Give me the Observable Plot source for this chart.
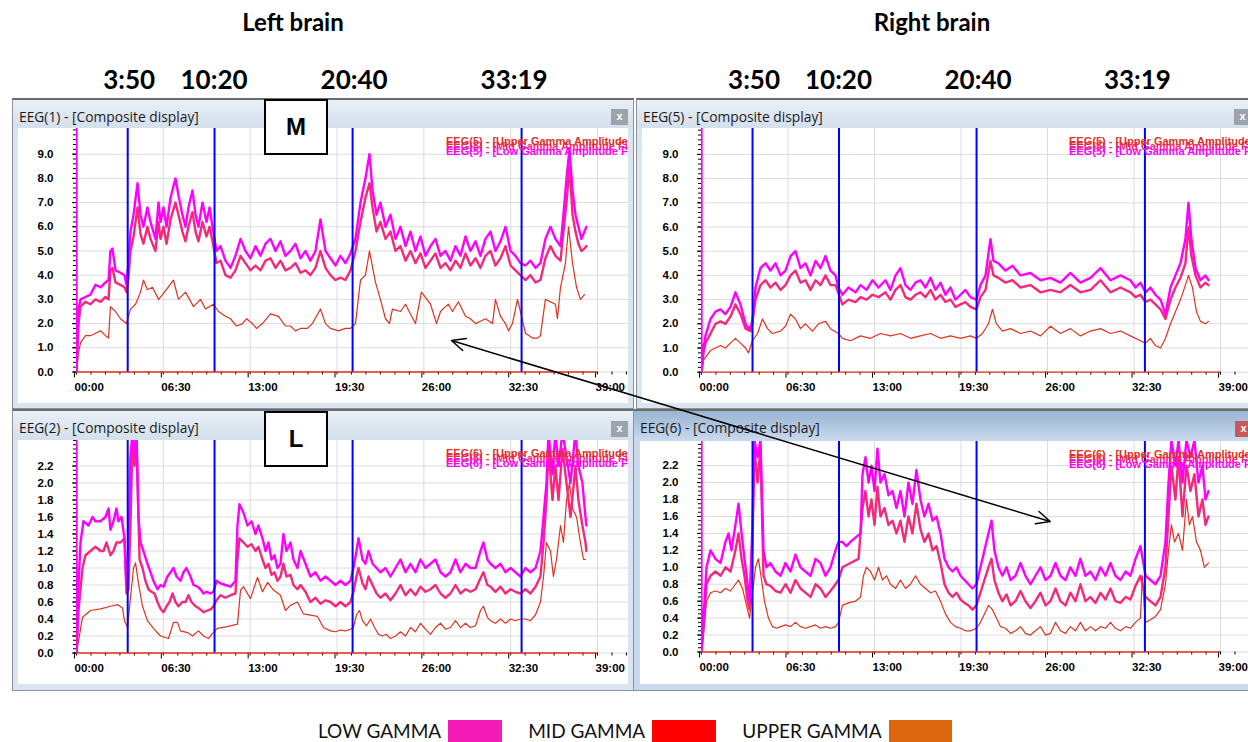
<!DOCTYPE html>
<html><head><meta charset="utf-8">
<script src="https://cdn.jsdelivr.net/npm/d3@7"></script>
<script src="https://cdn.jsdelivr.net/npm/@observablehq/plot@0.6"></script>
<style>
html,body{margin:0;padding:0;background:#fff;}
#page{position:relative;width:1248px;height:742px;overflow:hidden;background:#fff;}
</style></head>
<body><div id="page"></div>
<script>
// ---------- DATA (minutes, amplitude) ----------
const eventLabels = ["3:50","10:20","20:40","33:19"];
const xTickMin = [0, 6.5, 13, 19.5, 26, 32.5, 39];
const xTickLabels = ["00:00","06:30","13:00","19:30","26:00","32:30","39:00"];
const yTicksM = [0,1,2,3,4,5,6,7,8,9];
const yLabelsM = ["0.0","1.0","2.0","3.0","4.0","5.0","6.0","7.0","8.0","9.0"];
const yTicksL = [0,0.2,0.4,0.6,0.8,1.0,1.2,1.4,1.6,1.8,2.0,2.2];
const yLabelsL = ["0.0","0.2","0.4","0.6","0.8","1.0","1.2","1.4","1.6","1.8","2.0","2.2"];
const legendLabels = ["LOW GAMMA","MID GAMMA","UPPER GAMMA"];
const legendColors = ["#f21bb6","#ff0000","#dc670f"];

// Left brain, M
const leftM_low = [[0,12],[0,0],[0.07,1.5],[0.15,2.6],[0.30,3.0],[0.67,3.1],[1.05,3.2],[1.42,3.6],[1.80,3.5],[2.17,3.7],[2.40,3.8],[2.54,5.0],[2.69,5.1],[2.92,4.2],[3.29,4.1],[3.59,4.0],[3.74,3.6],[3.89,4.5],[4.04,5.8],[4.27,6.5],[4.57,7.8],[4.79,6.5],[5.01,6.0],[5.31,6.8],[5.54,6.2],[5.91,5.5],[6.14,7.0],[6.29,6.2],[6.51,6.8],[6.74,6.0],[7.04,7.2],[7.41,8.0],[7.63,7.3],[7.93,6.5],[8.16,6.0],[8.38,6.8],[8.68,7.5],[8.91,6.5],[9.13,6.0],[9.43,7.0],[9.73,6.2],[9.96,6.8],[10.18,6.0],[10.48,5.0],[10.78,5.2],[11.15,4.6],[11.53,4.3],[11.90,4.8],[12.28,5.5],[12.65,5.0],[13.02,4.7],[13.40,5.2],[13.77,4.8],[14.15,5.3],[14.52,5.5],[14.90,5.0],[15.27,5.4],[15.64,4.8],[16.02,5.0],[16.39,5.3],[16.77,4.7],[17.14,5.0],[17.51,4.6],[17.89,5.0],[18.26,6.3],[18.64,5.0],[19.01,4.7],[19.39,4.4],[19.76,4.8],[20.13,4.5],[20.51,4.9],[20.88,5.5],[21.26,7.0],[21.63,8.0],[21.93,9.0],[22.16,7.5],[22.46,6.5],[22.75,7.0],[23.13,6.0],[23.50,6.5],[23.88,5.5],[24.25,6.0],[24.63,5.2],[25.00,5.8],[25.37,5.0],[25.75,5.6],[26.12,4.8],[26.50,5.2],[26.87,5.5],[27.25,4.8],[27.62,5.0],[27.99,4.6],[28.37,5.2],[28.74,4.8],[29.12,5.6],[29.49,5.0],[29.87,5.4],[30.24,4.8],[30.61,5.5],[30.99,5.8],[31.36,5.0],[31.74,5.4],[32.11,6.0],[32.49,5.0],[32.86,4.8],[33.23,4.5],[33.61,4.4],[33.98,4.6],[34.36,4.3],[34.73,4.5],[35.10,5.5],[35.48,6.0],[35.85,5.5],[36.23,5.2],[36.45,6.5],[36.68,8.0],[36.90,9.2],[37.13,7.5],[37.35,6.5],[37.57,6.0],[37.80,5.5],[38.02,5.8],[38.17,6.0]];
const leftM_mid = [[0,0],[0.15,2.0],[0.30,2.7],[0.67,2.9],[1.05,2.8],[1.42,3.0],[1.80,2.9],[2.17,3.1],[2.40,3.0],[2.54,4.2],[2.69,4.3],[2.92,3.7],[3.29,3.6],[3.59,3.5],[3.74,3.3],[3.89,3.9],[4.04,5.0],[4.27,5.6],[4.57,6.8],[4.79,5.7],[5.01,5.3],[5.31,6.0],[5.54,5.5],[5.91,5.0],[6.14,6.2],[6.29,5.5],[6.51,6.0],[6.74,5.3],[7.04,6.3],[7.41,7.0],[7.63,6.5],[7.93,5.8],[8.16,5.4],[8.38,6.0],[8.68,6.6],[8.91,5.8],[9.13,5.4],[9.43,6.2],[9.73,5.6],[9.96,6.0],[10.18,5.4],[10.48,4.5],[10.78,4.6],[11.15,4.0],[11.53,3.9],[11.90,4.2],[12.28,4.8],[12.65,4.5],[13.02,4.2],[13.40,4.4],[13.77,4.2],[14.15,4.6],[14.52,4.7],[14.90,4.3],[15.27,4.6],[15.64,4.2],[16.02,4.3],[16.39,4.5],[16.77,4.1],[17.14,4.2],[17.51,4.0],[17.89,4.3],[18.26,5.0],[18.64,4.3],[19.01,4.0],[19.39,3.8],[19.76,3.9],[20.13,3.8],[20.51,4.2],[20.88,5.0],[21.26,6.2],[21.63,7.2],[21.93,7.8],[22.16,6.8],[22.46,5.8],[22.75,6.2],[23.13,5.5],[23.50,5.8],[23.88,5.0],[24.25,5.2],[24.63,4.6],[25.00,5.0],[25.37,4.5],[25.75,4.9],[26.12,4.3],[26.50,4.6],[26.87,4.9],[27.25,4.3],[27.62,4.5],[27.99,4.2],[28.37,4.6],[28.74,4.3],[29.12,4.9],[29.49,4.4],[29.87,4.7],[30.24,4.3],[30.61,4.8],[30.99,5.0],[31.36,4.4],[31.74,4.7],[32.11,5.2],[32.49,4.4],[32.86,4.2],[33.23,4.0],[33.61,3.8],[33.98,4.0],[34.36,3.7],[34.73,3.8],[35.10,4.7],[35.48,5.2],[35.85,4.8],[36.23,4.6],[36.45,5.8],[36.68,7.0],[36.90,8.5],[37.13,6.5],[37.35,5.8],[37.57,5.3],[37.80,5.0],[38.02,5.1],[38.17,5.2]];
const leftM_upper = [[0,0],[0.15,0.8],[0.30,1.2],[0.67,1.5],[1.05,1.5],[1.42,1.6],[1.80,1.7],[2.17,1.5],[2.40,1.4],[2.54,2.7],[2.92,2.5],[3.29,2.2],[3.74,2.0],[4.04,2.6],[4.42,2.8],[4.79,3.3],[5.01,3.8],[5.31,3.4],[5.69,3.5],[6.14,3.0],[6.44,3.2],[7.26,3.8],[7.63,3.0],[8.16,3.3],[8.76,2.7],[9.28,3.0],[9.66,2.6],[10.25,2.8],[10.63,2.5],[11.15,2.3],[11.53,2.2],[11.98,1.9],[12.43,2.0],[12.72,2.2],[13.17,2.0],[13.47,1.8],[13.92,2.0],[14.52,2.4],[15.12,2.3],[15.64,1.9],[16.02,1.9],[16.39,1.7],[16.77,1.8],[17.29,1.8],[17.66,2.0],[18.26,2.6],[18.64,2.0],[19.01,1.8],[19.61,1.7],[20.13,1.8],[20.51,1.8],[20.88,2.0],[21.26,3.8],[21.63,4.0],[21.93,5.0],[22.38,3.7],[22.75,3.0],[23.13,2.2],[23.43,2.0],[23.65,2.6],[24.25,2.5],[24.63,2.8],[25.00,2.4],[25.37,2.0],[25.82,3.3],[26.50,2.8],[26.95,2.0],[27.25,2.5],[27.62,2.7],[27.84,2.8],[28.14,2.5],[28.59,2.9],[29.12,2.3],[29.49,2.2],[29.87,2.0],[30.24,2.1],[30.61,2.2],[31.14,2.0],[31.36,3.0],[31.74,2.3],[32.11,2.0],[32.34,1.7],[32.63,2.0],[33.01,3.0],[33.23,2.5],[33.61,1.6],[34.13,1.4],[34.51,1.4],[34.73,1.5],[35.10,3.0],[35.85,2.8],[36.00,2.2],[36.23,3.5],[36.60,4.5],[36.83,6.0],[37.13,4.5],[37.43,3.5],[37.72,3.0],[38.02,3.2]];

// Right brain, M
const rightM_low = [[0,12],[0,0],[0.15,1.0],[0.30,1.5],[0.68,2.2],[1.05,2.5],[1.43,2.6],[1.80,2.4],[2.18,2.7],[2.55,3.3],[2.93,2.8],[3.31,2.0],[3.53,1.8],[3.83,2.0],[4.06,3.5],[4.43,4.3],[4.81,4.5],[5.18,4.2],[5.56,4.5],[5.94,4.0],[6.31,4.2],[6.69,4.8],[7.06,5.0],[7.44,4.3],[7.81,4.5],[8.19,4.0],[8.57,4.6],[8.94,4.3],[9.32,4.8],[9.69,4.2],[10.07,4.0],[10.29,3.5],[10.59,3.2],[11.04,3.5],[11.57,3.3],[11.95,3.6],[12.40,3.4],[12.85,3.8],[13.30,3.5],[13.82,3.8],[14.20,3.4],[14.58,4.0],[14.95,4.3],[15.33,3.6],[15.70,3.4],[16.08,3.7],[16.45,3.8],[16.83,3.5],[17.21,3.9],[17.58,3.4],[17.96,3.7],[18.33,3.2],[18.71,3.5],[19.08,3.0],[19.46,3.2],[19.83,3.4],[20.21,3.1],[20.66,3.0],[20.96,3.6],[21.34,4.0],[21.71,5.5],[21.94,4.6],[22.31,4.5],[22.84,4.2],[23.37,4.4],[23.97,4.0],[24.72,4.1],[25.47,3.8],[26.22,3.9],[26.97,3.7],[27.72,4.1],[28.47,3.7],[29.23,3.9],[29.98,4.3],[30.73,3.8],[31.48,4.0],[32.23,3.8],[32.61,3.5],[32.98,3.7],[33.36,3.3],[33.73,3.5],[34.11,3.2],[34.49,3.0],[34.86,2.4],[35.24,3.5],[35.61,4.0],[35.99,4.5],[36.36,5.5],[36.59,7.0],[36.81,5.5],[37.12,4.3],[37.49,3.8],[37.87,4.0],[38.09,3.8]];
const rightM_mid = [[0,0],[0.15,0.8],[0.30,1.2],[0.68,1.6],[1.05,2.0],[1.43,2.1],[1.80,2.0],[2.18,2.3],[2.55,2.8],[2.93,2.4],[3.31,1.8],[3.68,1.7],[4.06,3.0],[4.43,3.6],[4.81,3.8],[5.18,3.5],[5.56,3.7],[5.94,3.4],[6.31,3.6],[6.69,4.0],[7.06,4.2],[7.44,3.7],[7.81,3.8],[8.19,3.4],[8.57,3.8],[8.94,3.6],[9.32,4.0],[9.69,3.6],[10.07,3.6],[10.59,2.8],[11.04,3.0],[11.57,2.9],[11.95,3.1],[12.40,3.0],[12.85,3.2],[13.30,3.1],[13.82,3.3],[14.20,3.0],[14.58,3.4],[14.95,3.6],[15.33,3.1],[15.70,3.0],[16.08,3.2],[16.45,3.3],[16.83,3.1],[17.21,3.4],[17.58,3.0],[17.96,3.2],[18.33,2.9],[18.71,3.0],[19.08,2.7],[19.46,2.8],[19.83,2.9],[20.21,2.7],[20.66,2.6],[20.96,3.1],[21.34,3.4],[21.71,4.6],[21.94,4.0],[22.31,3.9],[22.84,3.7],[23.37,3.8],[23.97,3.5],[24.72,3.6],[25.47,3.3],[26.22,3.4],[26.97,3.3],[27.72,3.6],[28.47,3.3],[29.23,3.4],[29.98,3.8],[30.73,3.3],[31.48,3.5],[32.23,3.3],[32.61,3.1],[32.98,3.2],[33.36,2.9],[33.73,3.0],[34.11,2.8],[34.49,2.6],[34.86,2.2],[35.24,3.0],[35.61,3.5],[35.99,3.9],[36.36,4.5],[36.59,6.0],[36.81,4.8],[37.12,4.0],[37.49,3.5],[37.87,3.7],[38.09,3.6]];
const rightM_upper = [[0,0],[0.15,0.5],[0.68,0.9],[1.05,1.0],[1.43,1.1],[1.80,1.0],[2.18,1.2],[2.55,1.4],[2.93,1.2],[3.31,1.0],[3.53,0.8],[3.83,1.3],[4.21,1.6],[4.58,2.2],[4.96,1.8],[5.33,1.6],[5.94,1.7],[6.31,1.9],[6.69,2.4],[7.06,2.2],[7.44,1.8],[7.81,2.0],[8.34,1.7],[8.79,2.0],[9.32,2.1],[9.69,1.8],[10.29,1.6],[10.59,1.4],[11.19,1.3],[11.95,1.5],[12.70,1.4],[13.45,1.6],[14.20,1.5],[14.95,1.6],[15.70,1.4],[16.45,1.5],[17.21,1.6],[17.96,1.4],[18.71,1.5],[19.46,1.4],[20.21,1.5],[20.66,1.4],[21.11,1.6],[21.56,2.0],[21.86,2.6],[22.16,2.0],[22.61,1.7],[23.22,1.8],[23.97,1.6],[24.72,1.7],[25.47,1.5],[26.22,1.9],[26.97,1.6],[27.72,1.8],[28.47,1.5],[29.23,1.7],[29.98,1.8],[30.73,1.6],[31.48,1.7],[32.23,1.5],[32.98,1.3],[33.36,1.2],[33.73,1.4],[34.11,1.1],[34.49,1.0],[34.86,1.4],[35.24,2.0],[35.61,2.5],[35.99,3.0],[36.36,3.6],[36.59,4.0],[36.89,3.5],[37.19,2.5],[37.49,2.1],[37.87,2.0],[38.09,2.1]];

// Left brain, L
const leftL_low = [[0,3],[0,0],[0.15,0.8],[0.30,1.3],[0.52,1.55],[0.90,1.5],[1.20,1.6],[1.42,1.55],[1.80,1.55],[2.17,1.6],[2.40,1.7],[2.54,1.45],[2.77,1.55],[2.99,1.7],[3.14,1.55],[3.37,1.6],[3.59,1.35],[3.74,0.8],[3.89,1.2],[4.04,2.3],[4.19,2.6],[4.34,2.3],[4.49,2.6],[4.64,1.6],[4.79,1.3],[5.01,1.2],[5.31,1.05],[5.54,0.95],[5.76,0.85],[6.06,0.75],[6.29,0.8],[6.51,0.78],[6.81,0.9],[7.04,0.95],[7.26,1.0],[7.49,0.9],[7.78,0.85],[8.01,0.95],[8.23,1.0],[8.38,0.95],[8.53,0.9],[8.76,0.8],[9.06,0.78],[9.28,0.75],[9.51,0.7],[9.73,0.72],[10.03,0.7],[10.25,0.72],[10.48,0.85],[10.78,0.82],[11.15,0.8],[11.53,0.78],[11.90,0.85],[12.05,1.5],[12.20,1.75],[12.50,1.65],[12.80,1.5],[13.10,1.55],[13.40,1.4],[13.62,1.5],[13.92,1.35],[14.15,1.2],[14.37,1.3],[14.60,1.1],[14.82,1.15],[15.04,1.0],[15.27,1.05],[15.49,1.4],[15.72,1.2],[16.02,1.3],[16.24,1.1],[16.54,1.0],[16.77,1.2],[17.14,1.05],[17.51,0.9],[17.89,0.95],[18.26,0.85],[18.64,0.9],[19.01,0.85],[19.39,0.8],[19.76,0.85],[20.13,0.8],[20.51,0.85],[20.73,1.0],[20.96,1.2],[21.11,1.35],[21.41,1.1],[21.63,1.05],[21.86,1.2],[22.16,1.05],[22.46,1.0],[22.75,0.95],[23.13,1.0],[23.50,0.9],[23.88,1.0],[24.25,1.1],[24.63,0.95],[25.00,1.05],[25.37,0.95],[25.75,1.1],[26.12,1.0],[26.50,1.05],[26.87,1.1],[27.25,0.95],[27.62,0.9],[27.99,0.95],[28.37,1.1],[28.74,0.95],[29.12,1.05],[29.49,1.0],[29.87,1.0],[30.24,1.2],[30.46,1.3],[30.76,1.1],[30.99,1.05],[31.36,1.0],[31.74,1.05],[32.11,0.95],[32.49,1.0],[32.86,0.95],[33.23,0.9],[33.61,1.0],[33.98,0.95],[34.36,1.0],[34.73,1.2],[34.96,1.6],[35.18,2.0],[35.33,2.6],[35.63,2.1],[35.85,2.6],[36.08,2.2],[36.38,2.6],[36.68,2.3],[36.98,2.0],[37.35,2.6],[37.57,2.2],[37.87,2.0],[38.10,1.6],[38.17,1.5]];
const leftL_mid = [[0,0],[0.15,0.5],[0.45,1.0],[0.67,1.15],[1.05,1.2],[1.42,1.25],[1.80,1.2],[2.02,1.2],[2.25,1.3],[2.54,1.15],[2.77,1.2],[2.99,1.3],[3.29,1.3],[3.59,1.35],[3.74,0.7],[3.89,0.75],[4.04,1.5],[4.19,2.5],[4.34,2.2],[4.49,2.5],[4.72,1.1],[4.94,1.0],[5.16,0.85],[5.39,0.75],[5.61,0.72],[5.84,0.7],[6.06,0.6],[6.29,0.52],[6.51,0.48],[6.74,0.55],[6.96,0.6],[7.19,0.7],[7.41,0.6],[7.63,0.55],[7.93,0.6],[8.16,0.6],[8.38,0.68],[8.61,0.6],[8.91,0.55],[9.21,0.52],[9.51,0.48],[9.81,0.5],[10.10,0.52],[10.25,0.55],[10.48,0.62],[10.78,0.68],[11.15,0.65],[11.53,0.68],[11.90,0.7],[12.05,1.1],[12.20,1.35],[12.50,1.3],[12.80,1.25],[13.10,1.28],[13.40,1.2],[13.62,1.25],[13.92,1.1],[14.15,1.0],[14.37,1.05],[14.60,0.92],[14.82,0.95],[15.04,0.85],[15.27,0.9],[15.49,1.05],[15.72,0.9],[16.02,0.92],[16.24,0.8],[16.54,0.75],[16.77,0.8],[17.14,0.72],[17.51,0.6],[17.89,0.65],[18.26,0.58],[18.64,0.62],[19.01,0.6],[19.39,0.55],[19.76,0.6],[20.13,0.55],[20.51,0.6],[20.73,0.72],[20.96,0.9],[21.11,1.0],[21.41,0.82],[21.63,0.75],[21.86,0.9],[22.16,0.8],[22.46,0.7],[22.75,0.65],[23.13,0.7],[23.50,0.62],[23.88,0.7],[24.25,0.8],[24.63,0.68],[25.00,0.75],[25.37,0.68],[25.75,0.78],[26.12,0.72],[26.50,0.75],[26.87,0.8],[27.25,0.7],[27.62,0.65],[27.99,0.7],[28.37,0.8],[28.74,0.7],[29.12,0.75],[29.49,0.72],[29.87,0.75],[30.24,0.88],[30.46,0.95],[30.76,0.8],[30.99,0.78],[31.36,0.72],[31.74,0.78],[32.11,0.7],[32.49,0.75],[32.86,0.72],[33.23,0.7],[33.61,0.75],[33.98,0.7],[34.36,0.78],[34.73,0.9],[34.96,1.3],[35.18,1.8],[35.33,2.4],[35.63,1.8],[35.85,2.2],[36.08,1.8],[36.38,2.4],[36.68,2.0],[36.98,1.6],[37.35,2.2],[37.57,1.8],[37.87,1.5],[38.10,1.3],[38.17,1.2]];
const leftL_upper = [[0,0],[0.07,0.07],[0.45,0.42],[1.05,0.5],[1.80,0.52],[2.54,0.55],[3.07,0.57],[3.44,0.53],[3.59,0.38],[3.82,0.3],[4.04,0.65],[4.27,1.0],[4.42,1.06],[4.64,0.82],[4.94,0.55],[5.31,0.38],[5.76,0.29],[6.29,0.2],[6.89,0.17],[7.26,0.36],[7.56,0.36],[7.78,0.26],[8.31,0.24],[8.68,0.2],[9.13,0.26],[9.51,0.2],[9.88,0.17],[10.18,0.23],[10.55,0.29],[11.30,0.31],[12.05,0.34],[12.28,0.74],[12.50,0.78],[13.02,0.64],[13.55,0.89],[13.92,0.72],[14.30,0.83],[14.75,0.74],[15.27,0.68],[15.64,0.5],[16.02,0.56],[16.54,0.6],[16.99,0.46],[18.04,0.43],[18.49,0.3],[19.01,0.26],[19.39,0.25],[19.76,0.27],[20.13,0.26],[20.51,0.28],[20.73,0.3],[20.96,0.45],[21.18,0.5],[21.41,0.38],[21.71,0.32],[22.01,0.4],[22.31,0.3],[22.60,0.22],[22.90,0.2],[23.20,0.22],[23.50,0.17],[23.88,0.2],[24.25,0.25],[24.63,0.2],[25.00,0.3],[25.37,0.25],[25.75,0.35],[26.12,0.28],[26.50,0.22],[26.87,0.3],[27.25,0.35],[27.62,0.28],[27.99,0.3],[28.37,0.38],[28.74,0.3],[29.12,0.35],[29.49,0.3],[29.87,0.32],[30.24,0.5],[30.46,0.55],[30.76,0.42],[30.99,0.38],[31.36,0.35],[31.74,0.4],[32.11,0.35],[32.49,0.4],[32.86,0.38],[33.23,0.4],[33.61,0.4],[33.98,0.38],[34.36,0.45],[34.73,0.6],[34.96,0.9],[35.18,1.3],[35.48,1.2],[35.70,0.9],[35.93,1.1],[36.23,1.5],[36.45,1.3],[36.68,1.8],[36.90,2.0],[37.13,1.7],[37.43,1.6],[37.72,1.3],[37.95,1.1],[38.10,1.1]];

// Right brain, L
const rightL_low = [[0,3],[0,0],[0.15,0.4],[0.38,1.0],[0.68,1.2],[1.05,1.1],[1.43,1.05],[1.80,1.3],[2.03,1.4],[2.25,1.2],[2.55,1.5],[2.78,1.75],[3.01,1.4],[3.23,1.1],[3.46,0.8],[3.61,0.6],[3.83,1.5],[3.98,2.5],[4.21,2.3],[4.43,2.5],[4.66,1.2],[4.88,1.0],[5.18,1.05],[5.56,0.95],[5.94,0.9],[6.31,1.05],[6.69,0.95],[7.06,1.15],[7.44,1.0],[7.81,0.95],[8.19,0.9],[8.57,1.1],[8.94,1.05],[9.32,0.9],[9.69,1.0],[10.07,1.2],[10.29,1.3],[10.59,1.3],[10.89,1.25],[11.19,1.3],[11.57,1.35],[11.95,1.4],[12.10,2.1],[12.32,2.3],[12.55,2.0],[12.77,2.2],[13.00,1.9],[13.22,2.4],[13.45,2.0],[13.75,2.1],[14.05,1.85],[14.35,1.9],[14.65,1.7],[14.95,1.9],[15.25,1.6],[15.55,2.0],[15.85,1.75],[16.15,2.15],[16.45,1.8],[16.75,1.6],[17.06,1.75],[17.36,1.55],[17.66,1.6],[17.96,1.4],[18.26,1.1],[18.56,1.0],[18.86,0.95],[19.16,1.0],[19.46,0.9],[19.76,0.85],[20.06,0.8],[20.36,0.75],[20.66,0.8],[20.96,1.0],[21.26,1.2],[21.56,1.4],[21.79,1.55],[22.01,1.2],[22.31,1.0],[22.61,0.9],[22.92,1.0],[23.22,0.85],[23.59,0.9],[23.97,1.05],[24.34,0.9],[24.72,0.8],[25.09,0.9],[25.47,1.0],[25.85,0.85],[26.22,0.9],[26.60,1.05],[26.97,0.9],[27.35,0.85],[27.72,1.0],[28.10,0.9],[28.47,1.1],[28.85,0.9],[29.23,0.95],[29.60,0.85],[29.98,1.0],[30.35,0.9],[30.73,1.05],[31.10,0.9],[31.48,0.85],[31.86,0.95],[32.23,0.9],[32.61,1.1],[32.98,1.25],[33.36,0.9],[33.73,0.85],[34.11,0.8],[34.49,0.9],[34.86,1.3],[35.09,2.0],[35.31,2.5],[35.61,2.2],[35.84,2.5],[36.14,2.0],[36.44,2.5],[36.74,2.3],[37.04,2.5],[37.34,2.0],[37.64,2.2],[37.87,1.8],[38.09,1.9]];
const rightL_mid = [[0,0],[0.15,0.3],[0.38,0.8],[0.68,0.9],[1.05,0.95],[1.43,0.9],[1.80,1.0],[2.18,0.95],[2.55,1.2],[2.78,1.4],[3.01,1.1],[3.23,0.9],[3.46,0.6],[3.61,0.5],[3.83,1.3],[3.98,2.4],[4.21,2.0],[4.43,2.4],[4.66,0.9],[4.88,0.8],[5.18,0.78],[5.56,0.72],[5.94,0.7],[6.31,0.8],[6.69,0.7],[7.06,0.85],[7.44,0.75],[7.81,0.7],[8.19,0.65],[8.57,0.8],[8.94,0.75],[9.32,0.65],[9.69,0.72],[10.07,0.8],[10.29,0.85],[10.59,1.0],[11.19,1.05],[11.80,1.1],[12.10,1.7],[12.32,1.9],[12.55,1.6],[12.77,1.8],[13.00,1.5],[13.22,1.95],[13.45,1.6],[13.75,1.7],[14.05,1.5],[14.35,1.55],[14.65,1.4],[14.95,1.55],[15.25,1.3],[15.55,1.6],[15.85,1.4],[16.15,1.75],[16.45,1.45],[16.75,1.3],[17.06,1.4],[17.36,1.2],[17.66,1.25],[17.96,1.05],[18.26,0.8],[18.56,0.7],[18.86,0.65],[19.16,0.7],[19.46,0.62],[19.76,0.58],[20.06,0.55],[20.36,0.5],[20.66,0.55],[20.96,0.7],[21.26,0.85],[21.56,1.0],[21.79,1.1],[22.01,0.85],[22.31,0.7],[22.61,0.6],[22.92,0.68],[23.22,0.55],[23.59,0.6],[23.97,0.72],[24.34,0.6],[24.72,0.52],[25.09,0.6],[25.47,0.7],[25.85,0.55],[26.22,0.6],[26.60,0.75],[26.97,0.6],[27.35,0.55],[27.72,0.7],[28.10,0.6],[28.47,0.8],[28.85,0.6],[29.23,0.65],[29.60,0.58],[29.98,0.7],[30.35,0.62],[30.73,0.75],[31.10,0.6],[31.48,0.58],[31.86,0.65],[32.23,0.62],[32.61,0.78],[32.98,0.9],[33.36,0.65],[33.73,0.6],[34.11,0.55],[34.49,0.65],[34.86,1.0],[35.09,1.6],[35.31,2.2],[35.61,1.8],[35.84,2.3],[36.14,1.6],[36.44,2.2],[36.74,1.9],[37.04,2.1],[37.34,1.6],[37.64,1.8],[37.87,1.5],[38.09,1.6]];
const rightL_upper = [[0,0],[0.15,0.2],[0.38,0.6],[0.68,0.7],[1.05,0.72],[1.43,0.7],[1.80,0.75],[2.18,0.72],[2.55,0.8],[2.78,0.85],[3.08,0.75],[3.38,0.55],[3.61,0.4],[3.83,0.7],[4.06,1.0],[4.28,1.1],[4.51,0.85],[4.73,0.6],[5.03,0.4],[5.33,0.3],[5.63,0.28],[5.94,0.3],[6.31,0.32],[6.69,0.3],[7.06,0.35],[7.44,0.3],[7.81,0.28],[8.19,0.3],[8.57,0.32],[8.94,0.28],[9.32,0.3],[9.69,0.28],[10.07,0.3],[10.29,0.35],[10.59,0.55],[11.04,0.58],[11.57,0.6],[11.95,0.65],[12.17,0.9],[12.40,1.0],[12.70,0.95],[13.00,0.85],[13.30,1.0],[13.60,0.85],[13.90,0.9],[14.20,0.8],[14.58,0.75],[14.95,0.85],[15.33,0.75],[15.70,0.8],[16.08,0.9],[16.45,0.8],[16.83,0.75],[17.21,0.7],[17.58,0.72],[17.96,0.6],[18.33,0.45],[18.71,0.35],[19.08,0.3],[19.46,0.28],[19.83,0.25],[20.21,0.25],[20.66,0.28],[20.96,0.35],[21.26,0.45],[21.56,0.55],[21.86,0.5],[22.16,0.4],[22.46,0.3],[22.84,0.28],[23.22,0.22],[23.59,0.25],[23.97,0.3],[24.34,0.22],[24.72,0.2],[25.09,0.25],[25.47,0.3],[25.85,0.2],[26.22,0.22],[26.60,0.35],[26.97,0.25],[27.35,0.22],[27.72,0.3],[28.10,0.25],[28.47,0.35],[28.85,0.25],[29.23,0.3],[29.60,0.25],[29.98,0.3],[30.35,0.28],[30.73,0.35],[31.10,0.28],[31.48,0.25],[31.86,0.3],[32.23,0.28],[32.61,0.35],[32.98,0.4],[33.13,0.9],[33.28,0.5],[33.36,0.35],[33.73,0.38],[34.11,0.42],[34.49,0.5],[34.86,0.8],[35.09,1.2],[35.31,1.5],[35.54,1.3],[35.84,1.4],[36.14,1.2],[36.44,1.8],[36.66,1.5],[36.89,1.6],[37.19,1.3],[37.49,1.2],[37.79,1.0],[38.09,1.05]];

// annotation arrow ends, in each panel's own units
const arrowFrom = {panel: "TL", t: 28.07, v: 1.3};
const arrowTo = {panel: "BR", t: 26.2, v: 1.54};

// ---------- STYLE ----------
const C_LOW = "#ff00ff", C_MID = "#f5287c", C_UP = "#e0321e", C_EVENT = "#0000ff";
const eventMinutes = eventLabels.map(s => { const [m, sec] = s.split(":").map(Number); return m + sec / 60; });
const eventLabelNudge = [2, 0, 2, -7];   // header label offsets (px) relative to their line

const page = document.getElementById("page");
function el(tag, css, text, parent) {
  const e = document.createElement(tag);
  Object.assign(e.style, css);
  if (text != null) e.textContent = text;
  (parent || page).appendChild(e);
  return e;
}

const panels = [
  {key:"TL", title:"EEG(1) - [Composite display]", eeg:"EEG(5)", series:[leftM_upper, leftM_mid, leftM_low],
   win:[12,98,622,311], content:[18,128,610,275], mL:58, mB:31.5, yMax:10.06, xMax:41.32,
   yTicks:yTicksM, yLabels:yLabelsM, minorStep:0.2, close:[610,107], legX:428, active:false},
  {key:"TR", title:"EEG(5) - [Composite display]", eeg:"EEG(5)", series:[rightM_upper, rightM_mid, rightM_low],
   win:[636,98,620,311], content:[642,128,606,275], mL:59, mB:31.3, yMax:10.07, xMax:41.1,
   yTicks:yTicksM, yLabels:yLabelsM, minorStep:0.2, close:[1233,107], legX:427, active:false},
  {key:"BL", title:"EEG(2) - [Composite display]", eeg:"EEG(6)", series:[leftL_upper, leftL_mid, leftL_low],
   win:[12,409,622,282], content:[18,440,610,244], mL:58, mB:31.5, yMax:2.5, xMax:41.32,
   yTicks:yTicksL, yLabels:yLabelsL, minorStep:0.05, close:[610,419], legX:428, active:false},
  {key:"BR", title:"EEG(6) - [Composite display]", eeg:"EEG(6)", series:[rightL_upper, rightL_mid, rightL_low],
   win:[633,409,620,282], content:[640,441,608,243], mL:61, mB:32.5, yMax:2.485, xMax:41.1,
   yTicks:yTicksL, yLabels:yLabelsL, minorStep:0.05, close:[1234,419], legX:429, active:true}
];

function drawPanel(p) {
  const [, , cw, ch] = p.content;
  const minorX = []; for (let k = 0; k * 65 / 60 <= p.xMax; k++) minorX.push(k * 65 / 60);
  const minorY = []; for (let k = 0; k * p.minorStep <= p.yMax; k++) minorY.push(+(k * p.minorStep).toFixed(3));
  const xLab = new Map(xTickMin.map((m, i) => [m, xTickLabels[i]]));
  const yLab = new Map(p.yTicks.map((m, i) => [m, p.yLabels[i]]));
  const [up, mid, low] = p.series;
  const X = d => d[0], Y = d => d[1];
  return Plot.plot({
    width: cw, height: ch,
    marginLeft: p.mL, marginRight: 0, marginTop: 0, marginBottom: p.mB,
    x: {domain: [0, p.xMax]}, y: {domain: [0, p.yMax]},
    style: {fontFamily: "'Liberation Sans', Arial, sans-serif", fontSize: "11.5px", fontWeight: "bold", color: "#000", background: "transparent", overflow: "visible"},
    marks: [
      Plot.gridX(xTickMin, {stroke: "#dcdcdc", strokeOpacity: 1}),
      Plot.gridY(p.yTicks, {stroke: "#dcdcdc", strokeOpacity: 1}),
      Plot.ruleX([0], {stroke: "#000"}),
      Plot.axisX(minorX, {tickSize: 3, tickFormat: () => "", stroke: "#000"}),
      Plot.axisX(xTickMin, {tickSize: 6, tickPadding: 5, tickFormat: d => xLab.get(d), textAnchor: "start", dx: -2, stroke: "#000", fill: "#000"}),
      Plot.axisY(minorY, {tickSize: 3, tickFormat: () => "", stroke: "#000"}),
      Plot.axisY(p.yTicks, {tickSize: 4, tickPadding: 19, tickFormat: d => yLab.get(d), stroke: "#000", fill: "#000"}),
      Plot.line(up, {x: X, y: Y, stroke: C_UP, strokeWidth: 1.2, clip: true}),
      Plot.line(mid, {x: X, y: Y, stroke: C_MID, strokeWidth: 2.4, clip: true}),
      Plot.line(low, {x: X, y: Y, stroke: C_LOW, strokeWidth: 2.4, clip: true}),
      Plot.ruleY([0], {x1: 0, x2: 39, stroke: C_UP, strokeWidth: 1.3}),
      Plot.ruleX(eventMinutes, {stroke: C_EVENT, strokeWidth: 2})
    ]
  });
}

// ---------- HEADERS ----------
el("div", {position:"absolute", left:"293px", top:"7px", transform:"translateX(-50%)", font:"bold 24px Lato, 'Open Sans', sans-serif", color:"#000", whiteSpace:"nowrap"}, "Left brain");
el("div", {position:"absolute", left:"932px", top:"7px", transform:"translateX(-50%)", font:"bold 24px Lato, 'Open Sans', sans-serif", color:"#000", whiteSpace:"nowrap"}, "Right brain");

const plots = {};
for (const p of panels) {
  const [wl, wt, ww, wh] = p.win;
  const w = el("div", {position:"absolute", left:wl+"px", top:wt+"px", width:ww+"px", height:wh+"px", boxSizing:"border-box",
    background: p.active ? "#c8d9ed" : "#dbe5f1", border:"1px solid #8a939c", borderTop:"2px solid #6c6c6c"});
  el("div", {position:"absolute", left:"0", right:"0", top:"0", height:"29px",
    background: p.active ? "linear-gradient(#9ab4d1,#c7d9ed)" : "linear-gradient(#e9eff6,#d3dfec)"}, null, w);
  el("div", {position:"absolute", left:"6px", top:"9px", font:"13.8px 'Open Sans', sans-serif", color:"#1a1a1a", whiteSpace:"nowrap", lineHeight:"16px"}, p.title, w);
  el("div", {position:"absolute", left:(p.close[0]-wl)+"px", top:(p.close[1]-wt)+"px", width:"17px", height:"16px",
    background: p.active ? "#c8585a" : "#9ca3ab", color:"#fff", font:"bold 11px 'Liberation Sans', Arial", textAlign:"center", lineHeight:"15px"}, "x", w);
  const [cl, ct, cw, ch] = p.content;
  const c = el("div", {position:"absolute", left:cl+"px", top:ct+"px", width:cw+"px", height:ch+"px", background:"#fff", overflow:"hidden"});
  const plot = drawPanel(p);
  plot.style.position = "absolute"; plot.style.left = "0"; plot.style.top = "0";
  c.appendChild(plot);
  plots[p.key] = {plot, p};
  // in-plot series legend (overlapping and clipped, as in the original screenshot)
  const legRows = [[4.5, C_MID, "Mid Gamma"], [9.5, C_LOW, "Low Gamma"], [0, C_UP, "Upper Gamma"]];
  for (const [off, col, nm] of legRows) {
    el("div", {position:"absolute", left:p.legX+"px", top:(7+off)+"px", font:"bold 11px 'Liberation Sans', Arial", lineHeight:"12px", color:col, whiteSpace:"nowrap"},
      `${p.eeg} - [${nm} Amplitude Filter]`, c);
  }
}

// event time labels above the top panels, placed with each panel's x scale
for (const key of ["TL", "TR"]) {
  const {plot, p} = plots[key];
  const sx = plot.scale("x");
  eventLabels.forEach((lab, i) => {
    const px = p.content[0] + sx.apply(eventMinutes[i]) + eventLabelNudge[i];
    el("div", {position:"absolute", left:px+"px", top:"63px", transform:"translateX(-50%)", font:"bold 26px Lato, 'Open Sans', sans-serif", color:"#000", whiteSpace:"nowrap"}, lab);
  });
}

// M / L boxes
el("div", {position:"absolute", left:"264px", top:"99px", width:"64px", height:"56px", boxSizing:"border-box", border:"2px solid #000", background:"#fff",
  font:"bold 24px 'Liberation Sans', Arial", display:"flex", alignItems:"center", justifyContent:"center", color:"#000"}, "M");
el("div", {position:"absolute", left:"264px", top:"411px", width:"64px", height:"56px", boxSizing:"border-box", border:"2px solid #000", background:"#fff",
  font:"bold 24px 'Liberation Sans', Arial", display:"flex", alignItems:"center", justifyContent:"center", color:"#000"}, "L");

// bottom legend
const swatchW = [54, 64, 63];
const leg = el("div", {position:"absolute", left:"318px", top:"719px", height:"24px", display:"flex", alignItems:"flex-start", whiteSpace:"nowrap"});
legendLabels.forEach((lab, i) => {
  const item = el("div", {display:"flex", alignItems:"flex-start", marginRight:"26px"}, null, leg);
  el("span", {font:"19px Lato, 'Open Sans', sans-serif", color:"#111", lineHeight:"24px"}, lab, item);
  el("span", {display:"inline-block", width:swatchW[i]+"px", height:"24px", marginLeft:"7px", marginTop:"1px", background:legendColors[i]}, null, item);
});

// annotation arrow (double headed), endpoints mapped through the panel scales
function toPage(a) {
  const {plot, p} = plots[a.panel];
  return [p.content[0] + plot.scale("x").apply(a.t), p.content[1] + plot.scale("y").apply(a.v)];
}
const [ax, ay] = toPage(arrowFrom), [bx, by] = toPage(arrowTo);
const mx = (ax + bx) / 2, my = (ay + by) / 2;
const arrowPlot = Plot.plot({
  width: 1248, height: 742, margin: 0,
  x: {type: "identity", axis: null}, y: {type: "identity", axis: null},
  style: {background: "transparent"},
  marks: [
    Plot.arrow([{x1: mx, y1: my, x2: ax, y2: ay}, {x1: mx, y1: my, x2: bx, y2: by}],
      {x1: "x1", y1: "y1", x2: "x2", y2: "y2", stroke: "#000", strokeWidth: 1.5, headLength: 15, headAngle: 50, bend: 0})
  ]
});
Object.assign(arrowPlot.style, {position: "absolute", left: "0", top: "0", pointerEvents: "none"});
page.appendChild(arrowPlot);
</script>
</body></html>
